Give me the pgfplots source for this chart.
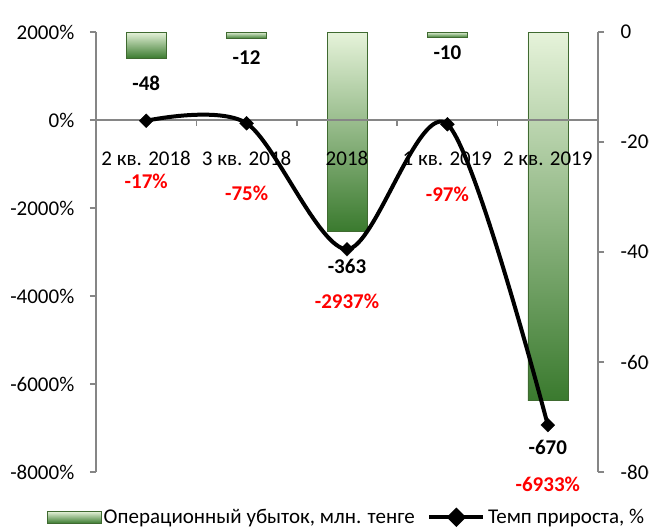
\documentclass[border=0pt]{standalone}
\usepackage{fontspec}
\setmainfont{Carlito}
\usepackage{pgfplots}
\pgfplotsset{compat=1.18}
\usepackage{pgfplotstable}
\usetikzlibrary{calc}
\definecolor{barTop}{HTML}{E6F3DA}
\definecolor{barMid}{HTML}{AACB76}
\definecolor{barBot}{HTML}{3A7A2E}
\definecolor{barEdge}{HTML}{3F6A30}
\definecolor{axgray}{HTML}{868686}
\newcommand{\lblfont}{\fontsize{15.75}{18}\selectfont}

\pgfplotstableread{
x y off lab
0 -17 45.75 -17
1 -75 52.5 -75
2 -2937 39 -2937
3 -97 52.5 -97
4 -6933 44.25 -6933
}\rate

\pgfplotsset{
  mybar/.style={ybar, bar width=30pt, bar shift=0pt, draw=barEdge, line width=0.4pt,
    top color=barTop, middle color=barMid, bottom color=barBot,
    point meta=explicit symbolic,
    nodes near coords={\textbf{\pgfplotspointmeta}},
    every node near coord/.append style={anchor=center, yshift=-#1, font=\lblfont\bfseries, text=black}},
}

\begin{document}
\begin{tikzpicture}[font=\lblfont]
\begin{axis}[
  scale only axis, width=376.5pt, height=330pt,
  xmin=-0.5, xmax=4.5, ymin=-800, ymax=0,
  axis y line*=right, axis x line=none,
  ytick={-800,-600,-400,-200,0},
  yticklabels={-800,-600,-400,-200,0},
  yticklabel style={anchor=west, xshift=9pt, font=\lblfont},
  tick align=outside, major tick length=4.5pt,
  y axis line style={axgray, line width=1.2pt},
  ytick style={axgray, line width=1.2pt},
  xtick=\empty,
  clip=false,
]
\addplot[mybar=18.5pt] coordinates {(0,-48) [-48]};
\addplot[mybar=13.9pt] coordinates {(1,-12) [-12]};
\addplot[mybar=26.25pt] coordinates {(2,-363) [-363]};
\addplot[mybar=11.6pt] coordinates {(3,-10) [-10]};
\addplot[mybar=34.9pt] coordinates {(4,-670) [-670]};
\end{axis}
\begin{axis}[
  scale only axis, width=376.5pt, height=330pt,
  xmin=-0.5, xmax=4.5, ymin=-8000, ymax=2000,
  axis y line*=left, axis x line*=middle,
  ytick={-8000,-6000,-4000,-2000,0,2000},
  yticklabels={-8000\%,-6000\%,-4000\%,-2000\%,0\%,2000\%},
  yticklabel style={anchor=east, xshift=-8.25pt, font=\lblfont},
  xtick={0.5,1.5,2.5,3.5}, xticklabels={},
  extra x ticks={0,1,2,3,4},
  extra x tick labels={2 кв. 2018,3 кв. 2018,2018,1 кв. 2019,2 кв. 2019},
  extra x tick style={major tick length=0pt},
  xticklabel style={anchor=base, yshift=-34.5pt, font=\lblfont},
  tick align=outside, major tick length=4.5pt,
  axis line style={axgray, line width=1.2pt},
  tick style={axgray, line width=1.2pt},
  clip=false,
  legend style={draw=none, fill=none, at={(0.5,-0.103)}, anchor=center,
    font=\lblfont, inner sep=0pt,
    /tikz/every even column/.append style={column sep=7.5pt}},
  legend columns=2, legend cell align=left,
]
\coordinate (bl) at (rel axis cs:0,0);
\coordinate (tr) at (rel axis cs:1,1);
\addlegendimage{legend image code/.code={\draw[draw=barEdge, line width=0.4pt, top color=barTop, middle color=barMid, bottom color=barBot] (0pt,-4.5pt) rectangle (40pt,4.5pt);}}
\addlegendentry{Операционный убыток, млн. тенге}
\addplot[black, line width=3pt, smooth, tension=0.5,
  mark=square*, mark size=3.7pt, mark options={rotate=45, solid, line width=0.2pt},
  point meta=explicit symbolic,
  nodes near coords={\textbf{\pgfplotspointmeta\%}},
  visualization depends on={\thisrow{off}\as\off},
  every node near coord/.append style={anchor=center, yshift=-\off pt, font=\lblfont\bfseries, text=red},
  legend image code/.code={\draw[black, line width=3pt] (0pt,0pt) -- (40.5pt,0pt);
    \fill[black] (20.25pt,0pt) +(0,5.2pt) -- +(5.2pt,0) -- +(0,-5.2pt) -- +(-5.2pt,0) -- cycle;}]
  table[x=x,y=y,meta=lab]{\rate};
\addlegendentry{Темп прироста, \%}
\end{axis}
\pgfresetboundingbox
\path ($(bl)+(-72pt,-42.75pt)$) rectangle ($(tr)+(38.25pt,24pt)$);
\end{tikzpicture}
\end{document}
